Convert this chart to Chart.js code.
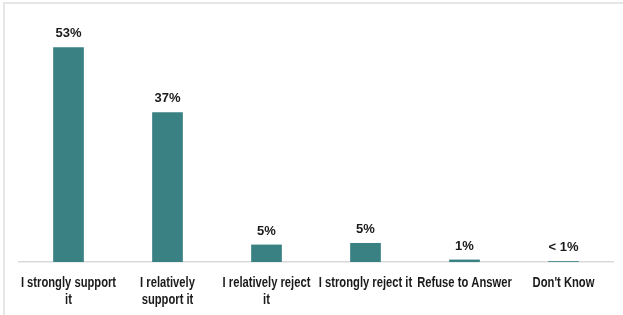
<!DOCTYPE html>
<html>
<head>
<meta charset="utf-8">
<script src="https://cdn.jsdelivr.net/npm/chart.js@4"></script>
<style>
    html, body { margin: 0; padding: 0; background: #fff; }
    #wrap {
        position: absolute; left: 3px; top: 2px;
        width: 620px; height: 313px;
        border-left: 2px solid #e6e6e6;
        border-top: 2px solid #e6e6e6;
        box-sizing: border-box;
    }
    #chart { position: absolute; left: 0; top: 0; }
</style>
</head>
<body>
<div id="wrap"><canvas id="chart" width="618" height="311"></canvas></div>
<script>
// Chart data
const categories = [
    ['I strongly support', 'it'],
    ['I relatively', 'support it'],
    ['I relatively reject', 'it'],
    ['I strongly reject it'],
    ['Refuse to Answer'],
    ["Don't Know"]
];
const values = [53, 37, 4.3, 4.7, 0.6, 0.2];
const valueLabels = ['53%', '37%', '5%', '5%', '1%', '< 1%'];

const barColor = '#3a8183';
const textColor = '#1a1a1a';

// Draws the percentage above each bar and the condensed category labels below the axis
const labelPlugin = {
    id: 'labels',
    afterDatasetsDraw(chart) {
        const ctx = chart.ctx;
        const meta = chart.getDatasetMeta(0);
        const xScale = chart.scales.x;
        const base = chart.chartArea.bottom;

        ctx.save();
        ctx.font = 'bold 13px "Liberation Sans", Arial, sans-serif';
        ctx.fillStyle = textColor;
        ctx.textAlign = 'center';
        ctx.textBaseline = 'bottom';
        meta.data.forEach((bar, i) => {
            ctx.fillText(valueLabels[i], bar.x, bar.y - 7);
        });
        ctx.restore();

        // category labels, squeezed horizontally like a narrow font
        ctx.save();
        ctx.font = 'bold 14px "Liberation Sans", Arial, sans-serif';
        ctx.fillStyle = textColor;
        ctx.textAlign = 'center';
        ctx.textBaseline = 'middle';
        categories.forEach((lines, i) => {
            const x = xScale.getPixelForTick(i);
            lines.forEach((line, j) => {
                ctx.save();
                ctx.translate(x, base + 21 + j * 17);
                ctx.scale(0.8, 1);
                ctx.fillText(line, 0, 0);
                ctx.restore();
            });
        });
        ctx.restore();
    }
};

new Chart(document.getElementById('chart'), {
    type: 'bar',
    data: {
        labels: categories,
        datasets: [{
            data: values,
            backgroundColor: barColor,
            borderWidth: 0,
            categoryPercentage: 1,
            barPercentage: 0.31
        }]
    },
    options: {
        responsive: false,
        animation: false,
        layout: { padding: { left: 14, right: 10, top: 15, bottom: 53 } },
        plugins: {
            legend: { display: false },
            tooltip: { enabled: false }
        },
        scales: {
            x: {
                grid: { display: false, drawTicks: false },
                border: { color: '#d9d9d9', width: 1.5 },
                ticks: { display: false }
            },
            y: {
                display: false,
                min: 0,
                max: 60
            }
        }
    },
    plugins: [labelPlugin]
});
</script>
</body>
</html>
